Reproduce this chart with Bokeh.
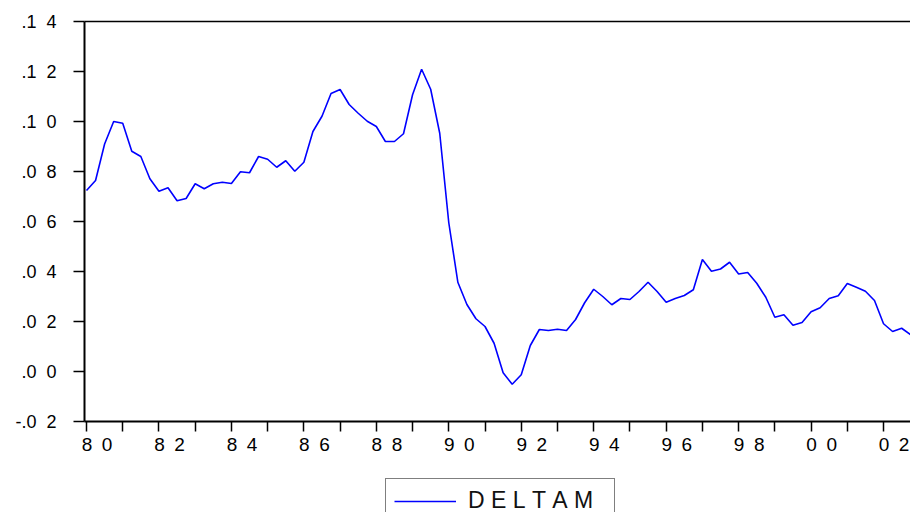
from bokeh.plotting import figure
from bokeh.models import (Range1d, FixedTicker, CustomJSTickFormatter, LinearAxis,
                          Legend, LegendItem)
from bokeh.embed import file_html
from bokeh.resources import INLINE

# ---- data (quarterly, 1980Q1 .. 2002Q4) ----
start_year = 1980
deltam = [
    0.0724, 0.0764, 0.0910, 0.1000, 0.0993, 0.0881, 0.0860, 0.0771,
    0.0721, 0.0735, 0.0683, 0.0692, 0.0751, 0.0731, 0.0751, 0.0757,
    0.0752, 0.0799, 0.0795, 0.0860, 0.0849, 0.0817, 0.0843, 0.0801,
    0.0837, 0.0960, 0.1021, 0.1112, 0.1128, 0.1068, 0.1033, 0.1001,
    0.0980, 0.0920, 0.0920, 0.0951, 0.1107, 0.1209, 0.1129, 0.0953,
    0.0595, 0.0357, 0.0268, 0.0211, 0.0180, 0.0113, -0.0005, -0.0051,
    -0.0013, 0.0104, 0.0168, 0.0164, 0.0169, 0.0164, 0.0208, 0.0275,
    0.0329, 0.0300, 0.0267, 0.0292, 0.0288, 0.0320, 0.0357, 0.0320,
    0.0277, 0.0292, 0.0304, 0.0327, 0.0448, 0.0401, 0.0410, 0.0437,
    0.0390, 0.0396, 0.0353, 0.0297, 0.0217, 0.0227, 0.0185, 0.0196,
    0.0239, 0.0255, 0.0292, 0.0303, 0.0352, 0.0337, 0.0321, 0.0284,
    0.0191, 0.0160, 0.0173, 0.0147,
]
dates = [start_year + i * 0.25 for i in range(len(deltam))]

x_tick_years = list(range(1980, 2003))
x_label_years = [1980, 1982, 1984, 1986, 1988, 1990, 1992, 1994, 1996, 1998, 2000, 2002]
x_label_text = ["80", "82", "84", "86", "88", "90", "92", "94", "96", "98", "00", "02"]
x_min, x_max = 1979.945, 2002.744

y_ticks = [-0.02, 0.00, 0.02, 0.04, 0.06, 0.08, 0.10, 0.12, 0.14]
y_label_text = ["-.02", ".00", ".02", ".04", ".06", ".08", ".10", ".12", ".14"]
y_min, y_max = -0.02, 0.14

series_name = "DELTAM"

# ---- styling helpers (spacing like EViews) ----
NB = "\u00a0"
def spaced_x(s):
    return NB * 4 + s[0] + "\u2002" + s[1]
def spaced_y(s):
    return s[:-1] + NB + NB + s[-1]

FONT = "Liberation Sans"

# The plot box is 826 x 400 px; the frame is extended to the whole canvas
# (84 px more on the left, 21 px above, 91 px below) so that the axis labels
# and the legend are drawn inside it, with the axes at fixed locations.
px_per_year = 826 / (x_max - x_min)
x_left = x_min - 84 / px_per_year
px_per_unit = 400 / (y_max - y_min)
y_bottom = y_min - 91 / px_per_unit
y_top = y_max + 21 / px_per_unit

p = figure(width=910, height=512, output_backend="svg", toolbar_location=None,
           x_range=Range1d(x_left, x_max), y_range=Range1d(y_bottom, y_top),
           min_border_left=0, min_border_top=0, min_border_right=0,
           min_border_bottom=0, background_fill_color="white",
           border_fill_color="white", outline_line_color=None)
p.xgrid.visible = False
p.ygrid.visible = False

r = p.line(dates, deltam, line_color="#0000FF", line_width=1.6)

# x axis (drawn at y = -0.02)
xa = p.xaxis[0]
xa.fixed_location = y_min
xa.bounds = (x_min, x_max)
xa.ticker = FixedTicker(ticks=x_tick_years, minor_ticks=[])
xa.formatter = CustomJSTickFormatter(
    args=dict(years=x_label_years, labels=[spaced_x(s) for s in x_label_text]),
    code="const i = years.indexOf(Math.round(tick)); return i >= 0 ? labels[i] : '';")
xa.major_tick_out = 10
xa.major_tick_in = 0
xa.minor_tick_out = 0
xa.minor_tick_in = 0
xa.major_tick_line_width = 1.5
xa.axis_line_width = 2
xa.major_label_standoff = 2
xa.major_label_text_font = FONT
xa.major_label_text_font_size = "19px"
xa.major_label_text_color = "black"

# y axis (drawn at the left edge of the plot box)
ya = p.yaxis[0]
ya.fixed_location = x_min
ya.bounds = (y_min, y_max)
ya.ticker = FixedTicker(ticks=y_ticks, minor_ticks=[])
ya.formatter = CustomJSTickFormatter(
    args=dict(vals=y_ticks, labels=[spaced_y(s) for s in y_label_text]),
    code="for (let i = 0; i < vals.length; i++) { if (Math.abs(vals[i] - tick) < 1e-9) return labels[i]; } return '';")
ya.major_tick_out = 11
ya.major_tick_in = 0
ya.minor_tick_out = 0
ya.minor_tick_in = 0
ya.major_tick_line_width = 1.5
ya.axis_line_width = 2
ya.major_label_standoff = 17
ya.major_label_text_font = FONT
ya.major_label_text_font_size = "18px"
ya.major_label_text_color = "black"

# top border line (at y = .14)
top = LinearAxis(ticker=FixedTicker(ticks=[]), bounds=(x_min, x_max),
                 fixed_location=y_max,
                 major_tick_out=0, major_tick_in=0,
                 minor_tick_out=0, minor_tick_in=0, major_label_standoff=0,
                 major_label_text_font_size="0px", axis_line_width=1.3)
p.add_layout(top, "above")

legend = Legend(items=[LegendItem(label=NB.join(series_name) + NB * 2, renderers=[r])],
                location=(385, -11), orientation="horizontal",
                padding=8, margin=0, glyph_width=62, glyph_height=10,
                label_standoff=12, label_text_font=FONT,
                label_text_font_size="23px", label_text_color="#111111",
                border_line_color="black", border_line_width=1.5,
                background_fill_alpha=1.0)
p.add_layout(legend, "center")

open("out.html", "w").write(file_html(p, INLINE))
